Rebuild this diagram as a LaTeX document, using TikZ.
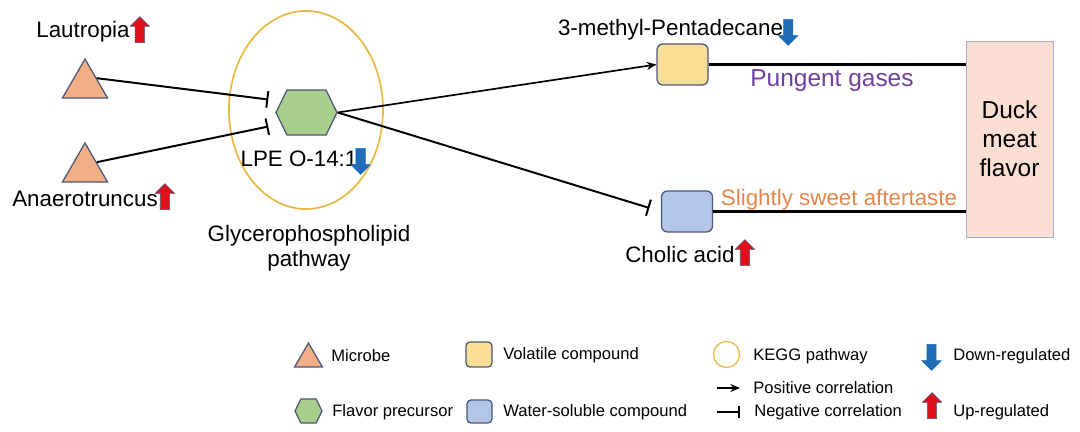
\documentclass[tikz,border=0pt]{standalone}
\usepackage{fontspec}
\setmainfont{Liberation Sans}
\usetikzlibrary{positioning,shapes.geometric,shapes.symbols,shapes.arrows,arrows.meta}
\definecolor{edge}{HTML}{4A5878}
\definecolor{microbefill}{HTML}{F2AE86}
\definecolor{precfill}{HTML}{A9CF8C}
\definecolor{volfill}{HTML}{FBDE96}
\definecolor{watfill}{HTML}{B3C6E8}
\definecolor{duckfill}{HTML}{FADFD2}
\definecolor{duckedge}{HTML}{9FAFCF}
\definecolor{keggline}{HTML}{E9B840}
\definecolor{upred}{HTML}{E0101A}
\definecolor{downblue}{HTML}{1F6CB8}
\definecolor{pungent}{HTML}{7040A0}
\definecolor{sweet}{HTML}{E5864A}
\begin{document}
\begin{tikzpicture}[x=0.025cm,y=-0.025cm,
  microbe/.style={regular polygon,regular polygon sides=3,draw=edge,fill=microbefill,line width=0.9pt,inner sep=0pt,minimum size=1.3cm},
  precursor/.style={signal,signal to=east and west,signal pointer angle=128,draw=edge,fill=precfill,line width=0.9pt,inner sep=0pt,minimum width=1.525cm,minimum height=1.125cm},
  compound/.style={draw=edge,rounded corners=0.15cm,line width=0.9pt,inner sep=0pt,minimum width=1.275cm,minimum height=1.025cm},
  uparr/.style={single arrow,shape border rotate=90,draw=edge,fill=upred,line width=0.4pt,inner sep=0.11cm,single arrow head extend=0.125cm,minimum height=0.65cm},
  downarr/.style={single arrow,shape border rotate=270,draw=downblue,fill=downblue,line width=0.4pt,inner sep=0.11cm,single arrow head extend=0.125cm,minimum height=0.65cm},
  lab/.style={font=\fontsize{15.9}{17.7}\selectfont,inner sep=0pt},
  leg/.style={font=\fontsize{11.8}{14}\selectfont,inner sep=0pt,anchor=west},
  negline/.style={-{Bar[width=0.42cm]},line width=1.4pt},
  posline/.style={-{Stealth[length=0.24cm,width=0.2cm]},line width=1.2pt}]
\useasboundingbox (0,0) rectangle (1080,432);

\node[draw=keggline,line width=1.2pt,ellipse,inner sep=0pt,minimum width=3.85cm,minimum height=4.95cm] (kegg) at (306,110) {};
\node[microbe] (lautri) at (85,85) {};
\node[microbe] (anatri) at (85,169) {};
\node[precursor] (lpe) at (306.5,112.5) {};
\node[compound,fill=volfill] (pent) at (682.5,64.5) {};
\node[compound,fill=watfill] (chol) at (687,211.5) {};
\node[draw=duckedge,fill=duckfill,line width=0.6pt,minimum width=2.175cm,minimum height=4.9cm,align=center,font=\fontsize{17.4}{20.6}\selectfont] (duck) at (1009.5,139) {Duck\\meat\\flavor};

\node[lab] (lau) at (83,32) {Lautropia};
\node[uparr,right=0.125cm of lau] (lauup) {};
\node[lab] (ana) at (85,199) {Anaerotruncus};
\node[uparr,right=0.05cm of ana] (anaup) {};
\node[lab] (lpel) at (299,159) {LPE O-14:1};
\node[downarr,right=-0.05cm of lpel] (lpedown) {};
\node[lab,align=center] (glyc) at (309,248) {Glycerophospholipid\\pathway};
\node[lab] (pentl) at (670.5,30) {3-methyl-Pentadecane};
\node[downarr,right=0cm of pentl] (pentdown) {};
\node[lab] (chold) at (680,255) {Cholic acid};
\node[uparr,right=0.125cm of chold] (cholup) {};
\node[lab,text=pungent,font=\fontsize{17.4}{20}\selectfont] (pung) at (832,81) {Pungent gases};
\node[lab,text=sweet] (sweetl) at (839,200) {Slightly sweet aftertaste};

\draw[negline] (lautri.side 3) -- ([xshift=-0.175cm,yshift=0.325cm]lpe.west);
\draw[negline] (anatri.side 3) -- ([xshift=-0.175cm,yshift=-0.35cm]lpe.west);
\draw[posline] (lpe.east) -- (pent.west);
\draw[negline,shorten >=0.3cm] (lpe.east) -- (chol.west);
\draw[line width=1.8pt] (pent.east) -- (pent.east -| duck.west);
\draw[line width=1.8pt] (chol.east) -- (chol.east -| duck.west);

\node[microbe,minimum size=0.8cm] (legmic) at (308.5,359) {};
\node[leg] (legmicl) at (331,356) {Microbe};
\node[compound,fill=volfill,minimum width=0.65cm,minimum height=0.625cm,rounded corners=0.1cm] (legvol) at (479,354.5) {};
\node[leg] (legvoll) at (503,355) {Volatile compound};
\node[precursor,minimum width=0.675cm,minimum height=0.6cm] (legpre) at (308.5,411) {};
\node[leg] (legprel) at (332,412) {Flavor precursor};
\node[compound,fill=watfill,minimum width=0.625cm,minimum height=0.575cm,rounded corners=0.1cm] (legwat) at (479.5,411.5) {};
\node[leg] (legwatl) at (503,412) {Water-soluble compound};
\node[circle,draw=keggline,line width=0.9pt,inner sep=0pt,minimum size=0.65cm] (legkegg) at (726.5,354.5) {};
\node[leg] (legkeggl) at (753,356) {KEGG pathway};
\coordinate (posa) at (717,388);
\coordinate (posb) at (740,388);
\draw[posline,line width=1pt] (posa) -- (posb);
\node[leg] (legposl) at (753,388) {Positive correlation};
\coordinate (nega) at (717,412);
\coordinate (negb) at (740,412);
\draw[-{Bar[width=0.3cm]},line width=1.2pt] (nega) -- (negb);
\node[leg] (legnegl) at (754,412) {Negative correlation};
\node[downarr] (legdown) at (931.5,355) {};
\node[leg] (legdownl) at (953,356) {Down-regulated};
\node[uparr] (legup) at (932,408) {};
\node[leg] (legupl) at (953,412) {Up-regulated};
\end{tikzpicture}
\end{document}
